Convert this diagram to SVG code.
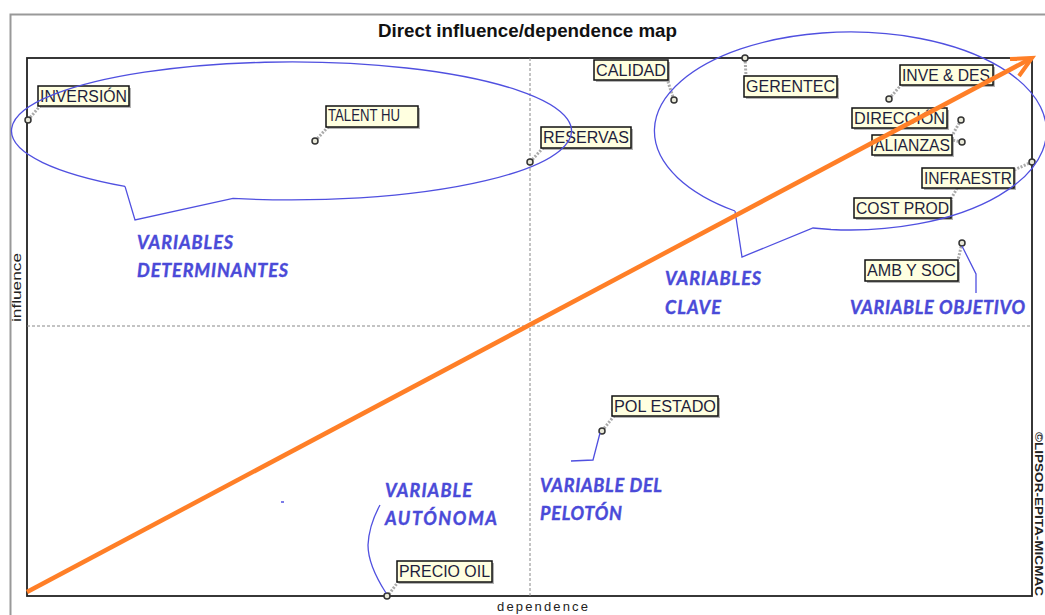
<svg xmlns="http://www.w3.org/2000/svg" width="1045" height="615" viewBox="0 0 1045 615">
<style>
.lbl{font-family:"Liberation Sans",Arial,sans-serif;font-size:16px;fill:#1e1e3c}
.box{fill:#ffffe0;stroke:#111;stroke-width:1.5}
.shd{fill:#777;opacity:0.55}
.pt{fill:#e8e8d8;stroke:#333;stroke-width:1.5}
.ldr{stroke:#aaa;stroke-width:3;stroke-dasharray:2 1.5;fill:none}
.ann{font-family:Lato,"Open Sans",sans-serif;font-size:18px;font-weight:bold;font-style:italic;fill:#4a4ad8;stroke:#4a4ad8;stroke-width:0.4}
.bl{fill:none;stroke:#5050e0;stroke-width:1.3}
.mid{stroke:#888;stroke-width:1;stroke-dasharray:3 2}
.ax{font-family:"Liberation Sans",Arial,sans-serif;font-size:13px;fill:#222}
</style>
<rect x="0" y="0" width="1045" height="615" fill="#fff"/>
<rect x="10.5" y="14.5" width="1060" height="620" fill="none" stroke="#999" stroke-width="2"/>
<text x="378" y="37" font-family="'Liberation Sans',Arial,sans-serif" font-size="19" font-weight="bold" fill="#111" textLength="299" lengthAdjust="spacingAndGlyphs">Direct influence/dependence map</text>
<rect x="27" y="58" width="1005" height="538" fill="none" stroke="#222" stroke-width="1.8"/>
<line class="mid" x1="530" y1="58" x2="530" y2="596"/>
<line class="mid" x1="27" y1="326" x2="1032" y2="326"/>
<text class="ax" transform="translate(21,322) rotate(-90)" font-size="14" textLength="69" lengthAdjust="spacingAndGlyphs">influence</text>
<text class="ax" x="497" y="611" textLength="91">dependence</text>
<text transform="translate(1035,432) rotate(90)" font-family="'Liberation Sans',Arial,sans-serif" font-size="11" font-weight="bold" fill="#222" textLength="164" lengthAdjust="spacingAndGlyphs">©LIPSOR-EPITA-MICMAC</text>

<g id="n-inversion"><line class="ldr" x1="28" y1="120" x2="40" y2="106"/><rect class="shd" x="40" y="88" width="91" height="20"/><rect class="box" x="38" y="86" width="91" height="20"/><text class="lbl" x="40" y="102" textLength="87" lengthAdjust="spacingAndGlyphs">INVERSIÓN</text><circle class="pt" cx="28" cy="120" r="3"/></g>
<g id="n-talent"><line class="ldr" x1="315" y1="141" x2="328" y2="127"/><rect class="shd" x="328" y="108" width="92" height="21"/><rect class="box" x="326" y="106" width="92" height="21"/><text class="lbl" x="328" y="121" font-size="13" textLength="72" lengthAdjust="spacingAndGlyphs">TALENT HU</text><circle class="pt" cx="315" cy="141" r="3"/></g>
<g id="n-reservas"><line class="ldr" x1="530" y1="162" x2="543" y2="148"/><rect class="shd" x="543" y="129" width="90" height="21"/><rect class="box" x="541" y="127" width="90" height="21"/><text class="lbl" x="543" y="143" textLength="86" lengthAdjust="spacingAndGlyphs">RESERVAS</text><circle class="pt" cx="530" cy="162" r="3"/></g>
<g id="n-calidad"><line class="ldr" x1="674" y1="100" x2="668" y2="82"/><rect class="shd" x="596" y="62" width="74" height="20"/><rect class="box" x="594" y="60" width="74" height="20"/><text class="lbl" x="596" y="76" textLength="70" lengthAdjust="spacingAndGlyphs">CALIDAD</text><circle class="pt" cx="674" cy="100" r="3"/></g>
<g id="n-gerentec"><line class="ldr" x1="745" y1="58" x2="746" y2="76"/><rect class="shd" x="746" y="78" width="93" height="21"/><rect class="box" x="744" y="76" width="93" height="21"/><text class="lbl" x="746" y="92" textLength="89" lengthAdjust="spacingAndGlyphs">GERENTEC</text><circle class="pt" cx="745" cy="58" r="3"/></g>
<g id="n-invedes"><line class="ldr" x1="889" y1="99" x2="901" y2="85"/><rect class="shd" x="902" y="67" width="93" height="20"/><rect class="box" x="900" y="65" width="93" height="20"/><text class="lbl" x="902" y="81" textLength="88" lengthAdjust="spacingAndGlyphs">INVE &amp; DES</text><circle class="pt" cx="889" cy="99" r="3"/></g>
<g id="n-costprod"><line class="ldr" x1="959" y1="185" x2="951" y2="199"/><circle class="pt" cx="959" cy="185" r="3"/><rect class="shd" x="856" y="200" width="97" height="20"/><rect class="box" x="854" y="198" width="97" height="20"/><text class="lbl" x="856" y="214" textLength="93" lengthAdjust="spacingAndGlyphs">COST PROD</text></g>
<g id="n-infraestr"><line class="ldr" x1="1032" y1="162" x2="1014" y2="170"/><rect class="shd" x="924" y="170" width="92" height="20"/><rect class="box" x="922" y="168" width="92" height="20"/><text class="lbl" x="924" y="184" textLength="88" lengthAdjust="spacingAndGlyphs">INFRAESTR</text><circle class="pt" cx="1032" cy="162" r="3"/></g>
<g id="n-alianzas"><line class="ldr" x1="962" y1="142" x2="952" y2="140"/><rect class="shd" x="874" y="137" width="80" height="20"/><rect class="box" x="872" y="135" width="80" height="20"/><text class="lbl" x="874" y="151" textLength="76" lengthAdjust="spacingAndGlyphs">ALIANZAS</text><circle class="pt" cx="962" cy="142" r="3"/></g>
<g id="n-direccion"><line class="ldr" x1="961" y1="120" x2="953" y2="134"/><rect class="shd" x="854" y="110" width="95" height="20"/><rect class="box" x="852" y="108" width="95" height="20"/><text class="lbl" x="854" y="124" textLength="91" lengthAdjust="spacingAndGlyphs">DIRECCIÓN</text><circle class="pt" cx="961" cy="120" r="3"/></g>
<g id="n-ambysoc"><line class="ldr" x1="962" y1="243" x2="958" y2="260"/><rect class="shd" x="867" y="262" width="93" height="21"/><rect class="box" x="865" y="260" width="93" height="21"/><text class="lbl" x="867" y="276" textLength="89" lengthAdjust="spacingAndGlyphs">AMB Y SOC</text><circle class="pt" cx="962" cy="243" r="3"/></g>
<g id="n-polestado"><line class="ldr" x1="602" y1="431" x2="614" y2="416"/><rect class="shd" x="614" y="398" width="106" height="20"/><rect class="box" x="612" y="396" width="106" height="20"/><text class="lbl" x="614" y="412" textLength="102" lengthAdjust="spacingAndGlyphs">POL ESTADO</text><circle class="pt" cx="602" cy="431" r="3"/></g>
<g id="n-preciooil"><line class="ldr" x1="387" y1="597" x2="398" y2="582"/><rect class="shd" x="399" y="563" width="95" height="21"/><rect class="box" x="397" y="561" width="95" height="21"/><text class="lbl" x="399" y="577" textLength="91" lengthAdjust="spacingAndGlyphs">PRECIO OIL</text><circle class="pt" cx="387" cy="596" r="3"/></g>

<g id="connectors">
<path class="bl" d="M125,186.4 L135,220 L233,198.4 A280,69 0 1 0 125,186.4"/>
<path class="bl" d="M735,211 L742,257 L813,228 L831,229.5 A196,99 0 1 0 735,211"/>
<path class="bl" d="M962,246 L976,274 L976,293"/>
<path class="bl" d="M600,433 L593,460 L571,461"/>
<path class="bl" d="M386,593 Q368,565 368,545 Q369,525 380,505"/>
<line x1="281" y1="502" x2="284" y2="502" stroke="#5050e0" stroke-width="1.5"/>
<line x1="27" y1="592" x2="1030" y2="59" stroke="#ff7f27" stroke-width="4.5"/>
<polyline points="1010,59 1032,58 1019,76" fill="none" stroke="#ff7f27" stroke-width="4" stroke-linejoin="miter"/>
</g>

<g id="annotations">
<text class="ann" x="137" y="249" textLength="96">VARIABLES</text>
<text class="ann" x="137" y="277" textLength="151">DETERMINANTES</text>
<text class="ann" x="665" y="285" textLength="96">VARIABLES</text>
<text class="ann" x="665" y="314" textLength="56">CLAVE</text>
<text class="ann" x="850" y="314" textLength="175">VARIABLE OBJETIVO</text>
<text class="ann" x="385" y="497" textLength="87">VARIABLE</text>
<text class="ann" x="385" y="525" textLength="112">AUTÓNOMA</text>
<text class="ann" x="540" y="492" textLength="122">VARIABLE DEL</text>
<text class="ann" x="540" y="520" textLength="82">PELOTÓN</text>
</g>
</svg>
